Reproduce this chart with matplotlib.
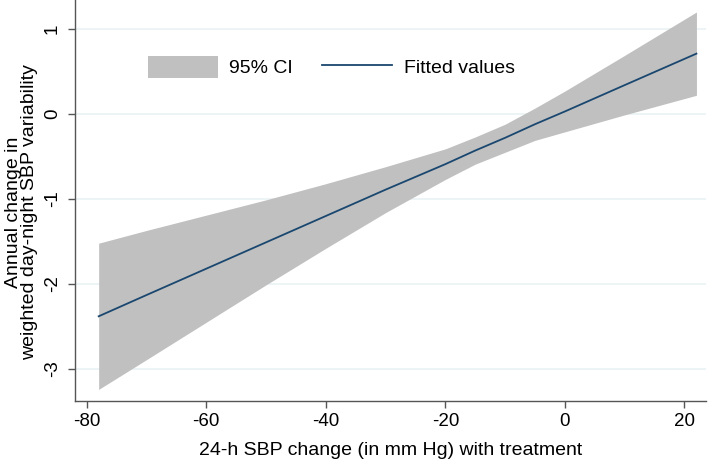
import numpy as np
import matplotlib
matplotlib.use("Agg")
import matplotlib.pyplot as plt
from matplotlib.patches import Patch
from matplotlib.lines import Line2D

plt.rcParams['font.family'] = ['Liberation Sans', 'DejaVu Sans']
plt.rcParams['axes.unicode_minus'] = False

# values
sbp_change = [-78, -70, -60, -50, -40, -30, -20, -15, -10, -5, 0, 10, 22]
fitted = [-2.38, -2.13, -1.82, -1.51, -1.20, -0.89, -0.59, -0.43, -0.28, -0.12, 0.03, 0.34, 0.71]
ci_upper = [-1.52, -1.37, -1.19, -1.01, -0.82, -0.62, -0.41, -0.27, -0.12, 0.07, 0.27, 0.69, 1.20]
ci_lower = [-3.24, -2.89, -2.45, -2.01, -1.58, -1.16, -0.77, -0.59, -0.45, -0.31, -0.21, -0.01, 0.22]

x_ticks = [-80, -60, -40, -20, 0, 20]
y_ticks = [-3, -2, -1, 0, 1]

fig = plt.figure(figsize=(7.09, 4.66), dpi=100)
ax = fig.add_axes([75 / 709, 1 - 400.7 / 466, (706 - 75) / 709, 400.7 / 466])

ax.fill_between(sbp_change, ci_lower, ci_upper, color='#c0c0c0', linewidth=0, zorder=2)
ax.plot(sbp_change, fitted, color='#1a476f', linewidth=1.3, zorder=3)

ax.set_xlim(-81.96, 23.6)
ax.set_ylim(-3.373, 1.341)
ax.set_xticks(x_ticks)
ax.set_yticks(y_ticks)
ax.set_yticklabels([str(v) for v in y_ticks], rotation=90, va='center')
ax.grid(axis='y', color='#eaf2f3', linewidth=1.2, zorder=0)
ax.set_axisbelow(True)

for side in ['top', 'right']:
    ax.spines[side].set_visible(False)
for side in ['left', 'bottom']:
    ax.spines[side].set_color('#555555')
    ax.spines[side].set_linewidth(1.0)
ax.tick_params(colors='#555555', labelcolor='black', labelsize=13.5, length=5, width=1.0)
ax.tick_params(axis='y', pad=5)

ax.set_xlabel('24-h SBP change (in mm Hg) with treatment', fontsize=14, labelpad=9)
ax.set_ylabel('Annual change in\nweighted day-night SBP variability', fontsize=14,
              linespacing=0.95)
ax.yaxis.set_label_coords(-0.058, 0.471)

handles = [Patch(facecolor='#c0c0c0', edgecolor='none'),
           Line2D([0], [0], color='#1a476f', linewidth=1.3)]
ax.legend(handles, ['95% CI', 'Fitted values'], ncol=2, frameon=False, fontsize=14,
          loc='center left', bbox_to_anchor=(0.115, 0.833), handlelength=3.6,
          handleheight=1.3, handletextpad=0.6, columnspacing=1.5,
          borderpad=0, borderaxespad=0)

fig.savefig('out.png', dpi=100)
